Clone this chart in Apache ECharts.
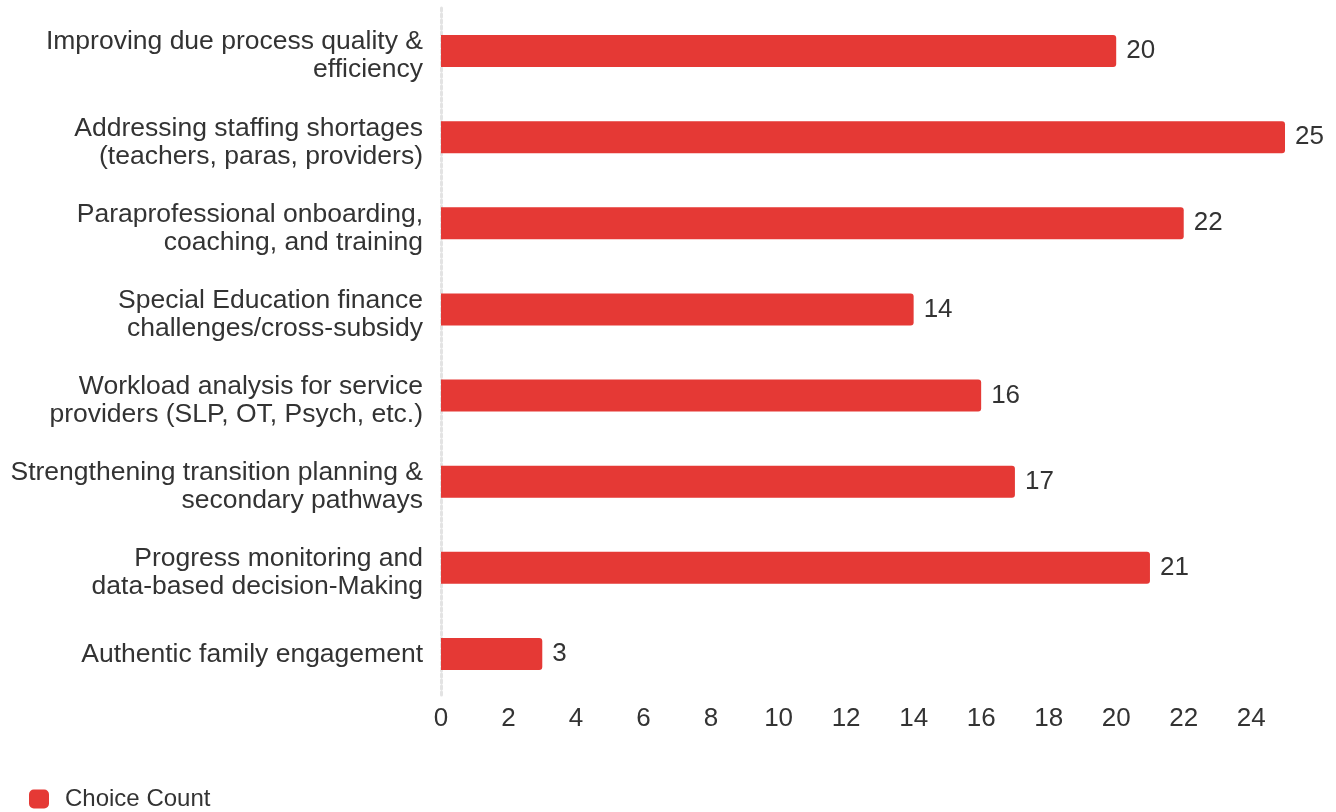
<!DOCTYPE html>
<html>
<head>
<meta charset="utf-8">
<script src="https://cdn.jsdelivr.net/npm/echarts@6/dist/echarts.min.js"></script>
<style>
  html, body { margin: 0; padding: 0; background: #fff; }
  #chart { width: 1336px; height: 812px; }
</style>
</head>
<body>
<div id="chart"></div>
<script>
// Survey priorities, listed top to bottom
const categories = [
  'Improving due process quality &\nefficiency',
  'Addressing staffing shortages\n(teachers, paras, providers)',
  'Paraprofessional onboarding,\ncoaching, and training',
  'Special Education finance\nchallenges/cross-subsidy',
  'Workload analysis for service\nproviders (SLP, OT, Psych, etc.)',
  'Strengthening transition planning &\nsecondary pathways',
  'Progress monitoring and\ndata-based decision-Making',
  'Authentic family engagement'
];
const choiceCount = [20, 25, 22, 14, 16, 17, 21, 3];
const seriesName = 'Choice Count';

const chart = echarts.init(document.getElementById('chart'));
const font = '"Liberation Sans", Arial, sans-serif';

// Category labels: a thin spacer line on top nudges the text block slightly downward
function categoryLabel(value) {
  const lines = value.split('\n');
  const spacer = lines.length > 1 ? '{s2| }' : '{s1| }';
  return spacer + '\n' + lines.map(l => '{t|' + l + '}').join('\n');
}

chart.setOption({
  animation: false,
  textStyle: { fontFamily: font },
  grid: { left: 441, right: 51, top: 8, bottom: 115, containLabel: false },
  legend: {
    data: [seriesName],
    left: 24, bottom: -4,
    icon: 'roundRect',
    itemWidth: 20, itemHeight: 19,
    itemGap: 10,
    textStyle: { fontSize: 24, color: '#333', fontFamily: font, padding: [0, 0, 0, 11] }
  },
  xAxis: {
    type: 'value',
    min: 0, max: 25, interval: 2,
    axisLine: { show: false },
    axisTick: { show: false },
    splitLine: { show: false },
    axisLabel: { fontSize: 26, color: '#333', margin: 9, showMaxLabel: false, fontFamily: font }
  },
  yAxis: {
    type: 'category',
    inverse: true,
    data: categories,
    axisLine: { show: true, lineStyle: { color: '#e3e3e3', width: 3, type: [3, 3] } },
    axisTick: { show: false },
    axisLabel: {
      color: '#333', margin: 18, align: 'right', fontFamily: font,
      formatter: categoryLabel,
      rich: {
        t: { fontSize: 26.5, lineHeight: 28, color: '#333', fontFamily: font, align: 'right' },
        s1: { fontSize: 1, lineHeight: 2, height: 2 },
        s2: { fontSize: 1, lineHeight: 10, height: 10 }
      }
    }
  },
  series: [{
    name: seriesName,
    type: 'bar',
    data: choiceCount,
    barWidth: 32,
    itemStyle: { color: '#e53935', borderRadius: [0, 3, 3, 0] },
    label: { show: true, position: 'right', distance: 10, fontSize: 26, color: '#333', fontFamily: font }
  }]
});
</script>
</body>
</html>
